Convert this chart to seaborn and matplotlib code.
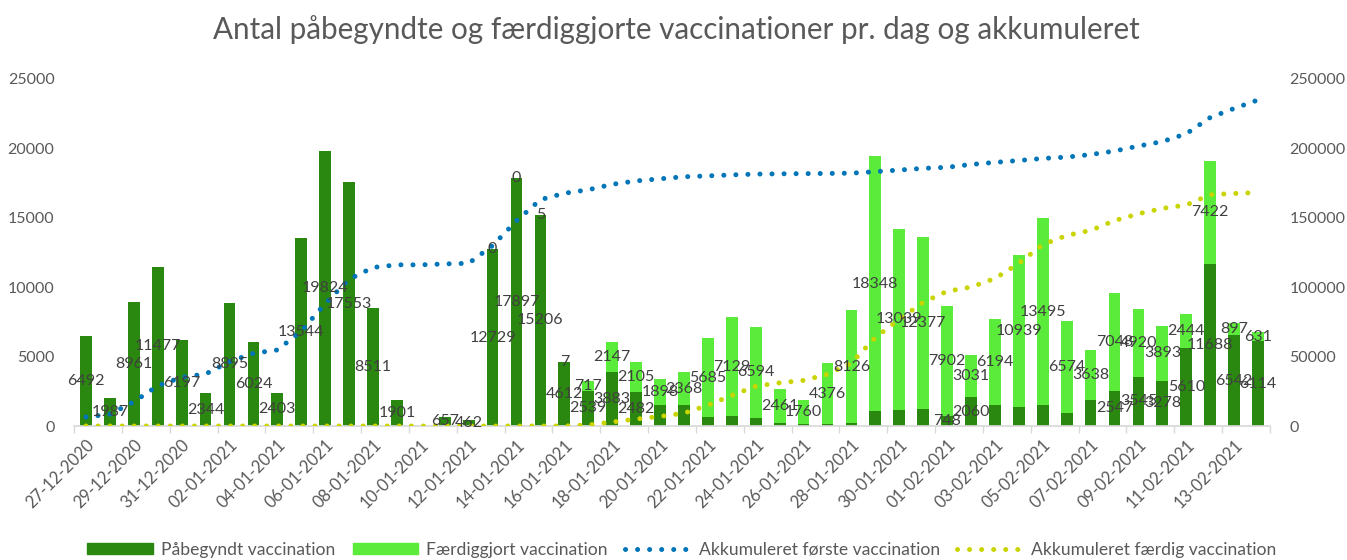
import numpy as np
import pandas as pd
import seaborn as sns
import matplotlib.pyplot as plt
from matplotlib.lines import Line2D
from matplotlib.patches import Patch

# daily dates on the category axis
dates = ['27-12-2020', '28-12-2020', '29-12-2020', '30-12-2020', '31-12-2020',
         '01-01-2021', '02-01-2021', '03-01-2021', '04-01-2021', '05-01-2021',
         '06-01-2021', '07-01-2021', '08-01-2021', '09-01-2021', '10-01-2021',
         '11-01-2021', '12-01-2021', '13-01-2021', '14-01-2021', '15-01-2021',
         '16-01-2021', '17-01-2021', '18-01-2021', '19-01-2021', '20-01-2021',
         '21-01-2021', '22-01-2021', '23-01-2021', '24-01-2021', '25-01-2021',
         '26-01-2021', '27-01-2021', '28-01-2021', '29-01-2021', '30-01-2021',
         '31-01-2021', '01-02-2021', '02-02-2021', '03-02-2021', '04-02-2021',
         '05-02-2021', '06-02-2021', '07-02-2021', '08-02-2021', '09-02-2021',
         '10-02-2021', '11-02-2021', '12-02-2021', '13-02-2021', '14-02-2021']

nan = np.nan
# Påbegyndt vaccination pr. dag (unlabelled days)
paabegyndt = [6492, 1987, 8961, 11477, 6197, 2344, 8895, 6024, 2403, 13544,
              19824, 17553, 8511, 1901, nan, 657, 462, 12729, 17897, 15206,
              4612, 2539, 3883, 2482, 1500, 1500, 620, 710, 570, 210,
              130, 130, 210, 1080, 1180, 1220, 748, 2060, 1480, 1360,
              1480, 960, 1840, 2547, 3545, 3278, 5610, 11688, 6542, 6114]

# Færdiggjort vaccination pr. dag
faerdig = [nan] * 17 + [0, 0, 5, 7, 717, 2147, 2105, 1898, 2368, 5685,
                        7129, 6594, 2461, 1760, 4376, 8126, 18348, 13039, 12377, 7902,
                        3031, 6194, 10939, 13495, 6574, 3638, 7048, 4920, 3893, 2444,
                        7422, 897, 631]

# days where the chart shows no label on the dark segment
no_dark_label = [14] + list(range(24, 36)) + list(range(38, 43))

dark = '#2A870F'
light = '#5BEB3B'
blue = '#0075B8'
yellow = '#CAD400'
grey = '#595959'

df = pd.DataFrame({'Dato': dates, 'Påbegyndt': paabegyndt, 'Færdiggjort': faerdig})
df['pos'] = np.arange(len(df))
df['Total'] = df['Påbegyndt'].fillna(0) + df['Færdiggjort'].fillna(0)
df['Akk_første'] = df['Påbegyndt'].fillna(0).cumsum()
df['Akk_færdig'] = df['Færdiggjort'].fillna(0).cumsum()

sns.set_theme(style='white')
plt.rcParams['font.family'] = ['Lato', 'DejaVu Sans']

fig = plt.figure(figsize=(13.47, 5.6), dpi=100)
ax = fig.add_axes([74 / 1347, 1 - 426 / 560, (1270 - 74) / 1347, 347 / 560])

sns.barplot(data=df, x='Dato', y='Total', order=dates, color=light, saturation=1,
            width=0.49, errorbar=None, linewidth=0, ax=ax)
sns.barplot(data=df.assign(P=df['Påbegyndt'].fillna(0)), x='Dato', y='P', order=dates,
            color=dark, saturation=1, width=0.49, errorbar=None, linewidth=0, ax=ax)
ax.set_ylim(0, 25000)
ax.set_xlim(-0.5, len(dates) - 0.5)

ax2 = ax.twinx()
dots = (0, (0.01, 2.4))
sns.lineplot(data=df, x='pos', y='Akk_første', ax=ax2, color=blue, linewidth=3.6,
             linestyle=dots, dash_capstyle='round')
sns.lineplot(data=df, x='pos', y='Akk_færdig', ax=ax2, color=yellow, linewidth=3.6,
             linestyle=dots, dash_capstyle='round')
ax2.set_ylim(0, 250000)
ax2.set_xlim(-0.5, len(dates) - 0.5)

# data labels centred in each segment
for i, row in df.iterrows():
    p = row['Påbegyndt']
    f = row['Færdiggjort']
    if not np.isnan(p) and i not in no_dark_label:
        ax2.text(i, p / 2, f'{int(p)}', transform=ax.transData, ha='center', va='center',
                 fontsize=11.5, color='#404040')
    if not np.isnan(f):
        base = 0 if np.isnan(p) else p
        ax2.text(i, base + f / 2, f'{int(f)}', transform=ax.transData, ha='center',
                 va='center', fontsize=11.5, color='#404040')

for a in (ax, ax2):
    for s in a.spines.values():
        s.set_visible(False)
    a.set_xlabel('')
    a.set_ylabel('')
ax.spines['bottom'].set_visible(True)
ax.spines['bottom'].set_color('#D9D9D9')

ax.set_yticks(np.arange(0, 25001, 5000))
ax.tick_params(axis='y', length=0, pad=14, labelsize=11.5, labelcolor=grey)
ax2.set_yticks(np.arange(0, 250001, 50000))
ax2.tick_params(axis='y', length=0, pad=14, labelsize=11.5, labelcolor=grey)

ax.set_xticks(df['pos'][::2])
ax.set_xticklabels(dates[::2], rotation=45, ha='right', rotation_mode='anchor')
ax.set_xticks(np.arange(-0.5, len(dates), 2), minor=True)
ax.tick_params(axis='x', which='major', length=0, pad=8, labelsize=12, labelcolor=grey)
ax.tick_params(axis='x', which='minor', length=5, width=1, color='#D9D9D9', bottom=True)

fig.text(0.502, 0.948, 'Antal påbegyndte og færdiggjorte vaccinationer pr. dag og akkumuleret',
         ha='center', va='center', fontsize=21.3, color=grey)

handles = [Patch(color=dark), Patch(color=light),
           Line2D([], [], color=blue, linewidth=3.6, linestyle=dots, dash_capstyle='round'),
           Line2D([], [], color=yellow, linewidth=3.6, linestyle=dots, dash_capstyle='round')]
labels = ['Påbegyndt vaccination', 'Færdiggjort vaccination',
          'Akkumuleret første vaccination', 'Akkumuleret færdig vaccination']
fig.legend(handles, labels, loc='lower center', bbox_to_anchor=(0.506, -0.024), ncol=4,
           frameon=False, fontsize=12.6, labelcolor=grey, handlelength=3.75,
           handleheight=0.6, handletextpad=0.45, columnspacing=1.0)

fig.savefig('out.png', dpi=100)
